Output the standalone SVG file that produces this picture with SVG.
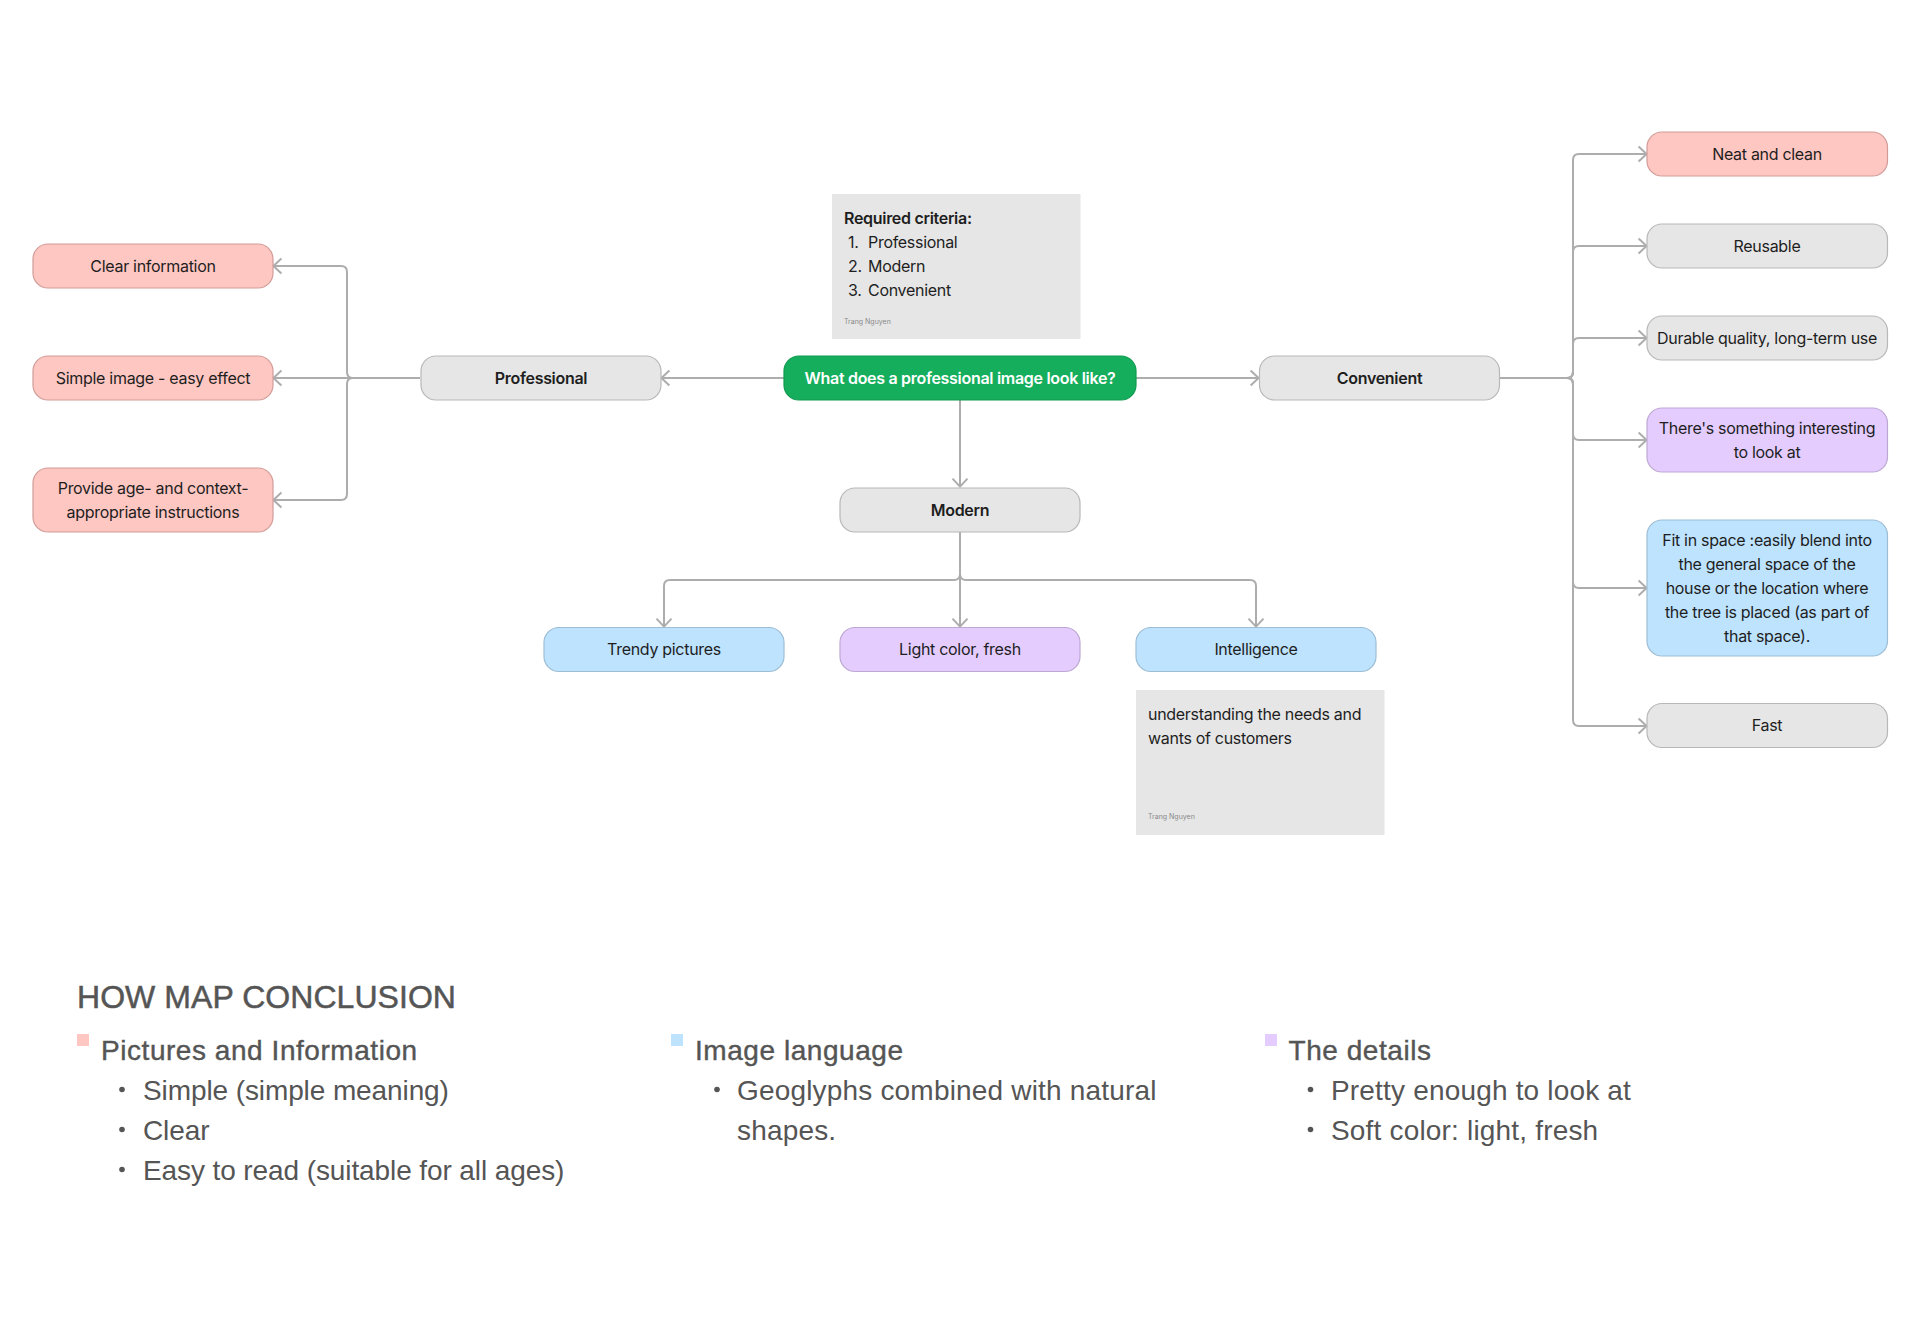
<svg xmlns="http://www.w3.org/2000/svg" width="1920" height="1330" viewBox="0 0 1920 1330">
<style>
text{font-family:Inter,"Liberation Sans",sans-serif;fill:#1e1e1e;font-size:16px;letter-spacing:-0.3px}
.c{text-anchor:middle}
.b{font-weight:600}
.n{stroke-width:1.2}
.gray{fill:#e6e6e6;stroke:#b8b8b8}
.pink{fill:#ffc7c2;stroke:#d19c98}
.blue{fill:#bde3ff;stroke:#9dbdd4}
.purple{fill:#e4ccff;stroke:#bda8d4}
.green{fill:#14ae5c;stroke:#0f9a50}
.note{fill:#e6e6e6}
.sig{font-size:7px;fill:#8a8a8a;letter-spacing:0}
.line{fill:none;stroke:#adadad;stroke-width:2;marker-end:url(#arrow)}
.h,.t,.s{font-family:"Liberation Sans",Arial,sans-serif;fill:#555;letter-spacing:0}
.h{font-size:32px;stroke:#555;stroke-width:.5px;letter-spacing:.05px}
.t{font-size:28px;stroke:#555;stroke-width:.4px;letter-spacing:.55px}
.s{font-size:28px;letter-spacing:.18px}
.s1{letter-spacing:-.1px}
.dot{fill:#555}
</style>
<defs>
<marker id="arrow" markerUnits="userSpaceOnUse" markerWidth="12" markerHeight="18" refX="9.400" refY="8" orient="auto" overflow="visible">
<path d="M1 0.500 L9 8 L1 15.500" fill="none" stroke="#adadad" stroke-width="2"/>
</marker>
</defs>
<rect width="1920" height="1330" fill="#fff"/>
<g id="connectors">
<path class="line" d="M784 378H661"/>
<path class="line" d="M1136 378H1259"/>
<path class="line" d="M960 400V487"/>
<path class="line" d="M420 378H273"/>
<path class="line" d="M420 378H353Q347 378 347 372V272Q347 266 341 266H273"/>
<path class="line" d="M420 378H353Q347 378 347 384V494Q347 500 341 500H273"/>
<path class="line" d="M1500 378H1567Q1573 378 1573 372V160Q1573 154 1579 154H1647"/>
<path class="line" d="M1500 378H1567Q1573 378 1573 372V252Q1573 246 1579 246H1647"/>
<path class="line" d="M1500 378H1567Q1573 378 1573 372V344Q1573 338 1579 338H1647"/>
<path class="line" d="M1500 378H1567Q1573 378 1573 384V434Q1573 440 1579 440H1647"/>
<path class="line" d="M1500 378H1567Q1573 378 1573 384V582Q1573 588 1579 588H1647"/>
<path class="line" d="M1500 378H1567Q1573 378 1573 384V720Q1573 726 1579 726H1647"/>
<path class="line" d="M960 532V627"/>
<path class="line" d="M960 532V574Q960 580 954 580H670Q664 580 664 586V627"/>
<path class="line" d="M960 532V574Q960 580 966 580H1250Q1256 580 1256 586V627"/>
</g>
<g id="node-center"><rect class="n green" x="784" y="356" width="352" height="44" rx="15"/><text class="c b" x="960" y="384" style="fill:#fff">What does a professional image look like?</text></g>
<g id="node-professional"><rect class="n gray" x="421" y="356" width="240" height="44" rx="15"/><text class="c b" x="541" y="384">Professional</text></g>
<g id="node-convenient"><rect class="n gray" x="1259.500" y="356" width="240" height="44" rx="15"/><text class="c b" x="1379.500" y="384">Convenient</text></g>
<g id="node-modern"><rect class="n gray" x="840" y="488" width="240" height="44" rx="15"/><text class="c b" x="960" y="515.500">Modern</text></g>
<g id="node-clear"><rect class="n pink" x="33" y="244" width="240" height="44" rx="15"/><text class="c" x="153" y="272">Clear information</text></g>
<g id="node-simple"><rect class="n pink" x="33" y="356" width="240" height="44" rx="15"/><text class="c" x="153" y="384">Simple image - easy effect</text></g>
<g id="node-provide"><rect class="n pink" x="33" y="468" width="240" height="64" rx="15"/><text class="c" x="153" y="494">Provide age- and context-</text><text class="c" x="153" y="518">appropriate instructions</text></g>
<g id="node-trendy"><rect class="n blue" x="544" y="627.500" width="240" height="44" rx="15"/><text class="c" x="664" y="655">Trendy pictures</text></g>
<g id="node-light"><rect class="n purple" x="840" y="627.500" width="240" height="44" rx="15"/><text class="c" x="960" y="655">Light color, fresh</text></g>
<g id="node-intelligence"><rect class="n blue" x="1136" y="627.500" width="240" height="44" rx="15"/><text class="c" x="1256" y="655">Intelligence</text></g>
<g id="node-neat"><rect class="n pink" x="1647" y="132" width="240.500" height="44" rx="15"/><text class="c" x="1767" y="160">Neat and clean</text></g>
<g id="node-reusable"><rect class="n gray" x="1647" y="224" width="240.500" height="44" rx="15"/><text class="c" x="1767" y="252">Reusable</text></g>
<g id="node-durable"><rect class="n gray" x="1647" y="316" width="240.500" height="44" rx="15"/><text class="c" x="1767" y="344">Durable quality, long-term use</text></g>
<g id="node-interesting"><rect class="n purple" x="1647" y="408" width="240.500" height="64" rx="15"/><text class="c" x="1767" y="434">There's something interesting</text><text class="c" x="1767" y="457.500">to look at</text></g>
<g id="node-fit"><rect class="n blue" x="1647" y="520" width="240.500" height="136" rx="15"/><text class="c" x="1767" y="546">Fit in space :easily blend into</text><text class="c" x="1767" y="570">the general space of the</text><text class="c" x="1767" y="594">house or the location where</text><text class="c" x="1767" y="618">the tree is placed (as part of</text><text class="c" x="1767" y="642">that space).</text></g>
<g id="node-fast"><rect class="n gray" x="1647" y="703.500" width="240.500" height="44" rx="15"/><text class="c" x="1767" y="731">Fast</text></g>
<g id="note-criteria"><rect class="note" x="832" y="194" width="248.500" height="145"/><text class="b" x="844" y="224">Required criteria:</text><text x="848" y="248">1.</text><text x="868" y="248">Professional</text><text x="848" y="272">2.</text><text x="868" y="272">Modern</text><text x="848" y="296">3.</text><text x="868" y="296">Convenient</text><text class="sig" x="844" y="324">Trang Nguyen</text></g>
<g id="note-customers"><rect class="note" x="1136" y="690" width="248.500" height="145"/><text x="1148" y="720">understanding the needs and</text><text x="1148" y="743.500">wants of customers</text><text class="sig" x="1148" y="819">Trang Nguyen</text></g>
<g id="conclusion">
<text class="h" x="77" y="1007.500">HOW MAP CONCLUSION</text>
<rect x="77" y="1034" width="12" height="12" fill="#ffc7c2"/>
<text class="t" x="101" y="1059.500">Pictures and Information</text>
<circle class="dot" cx="122" cy="1089.500" r="2.800"/><text class="s s1" x="143" y="1099.500">Simple (simple meaning)</text>
<circle class="dot" cx="122" cy="1129.500" r="2.800"/><text class="s s1" x="143" y="1139.500">Clear</text>
<circle class="dot" cx="122" cy="1169.500" r="2.800"/><text class="s s1" x="143" y="1179.500">Easy to read (suitable for all ages)</text>
<rect x="671" y="1034" width="12" height="12" fill="#bde3ff"/>
<text class="t" x="695" y="1059.500">Image language</text>
<circle class="dot" cx="717" cy="1089.500" r="2.800"/><text class="s" x="737" y="1099.500">Geoglyphs combined with natural</text><text class="s" x="737" y="1139.500">shapes.</text>
<rect x="1265" y="1034" width="12" height="12" fill="#e4ccff"/>
<text class="t" x="1288.500" y="1059.500">The details</text>
<circle class="dot" cx="1310.500" cy="1089.500" r="2.800"/><text class="s" x="1331" y="1099.500">Pretty enough to look at</text>
<circle class="dot" cx="1310.500" cy="1129.500" r="2.800"/><text class="s" x="1331" y="1139.500">Soft color: light, fresh</text>
</g>
</svg>
